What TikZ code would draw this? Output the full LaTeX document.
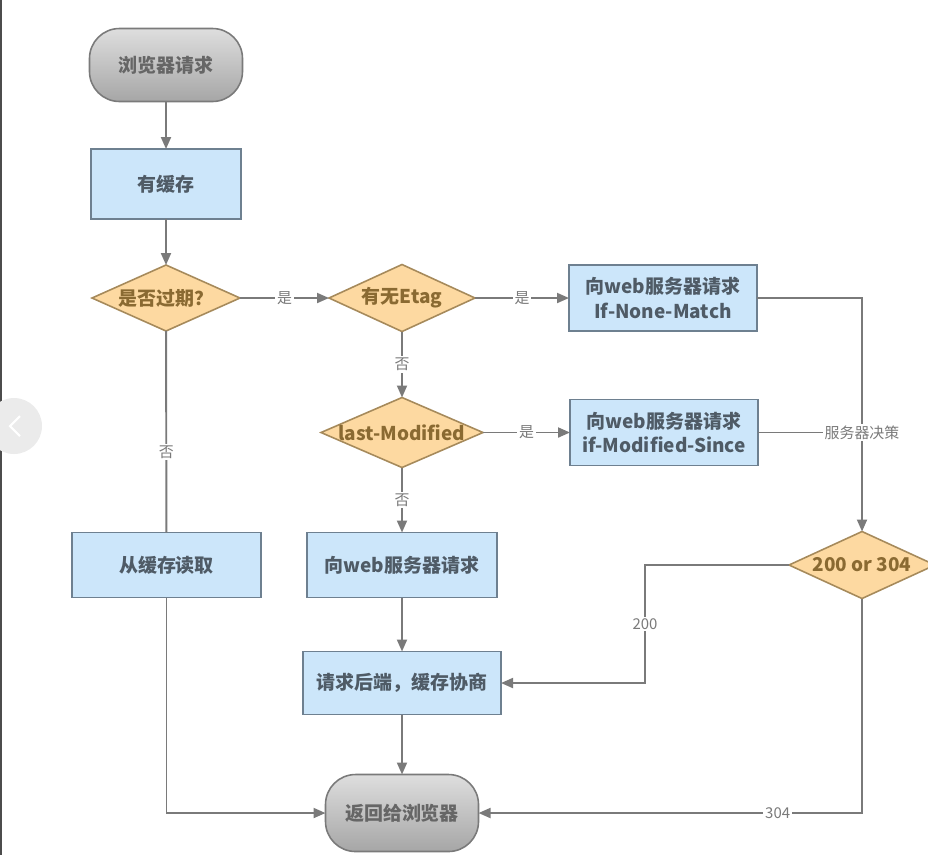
\documentclass[tikz,border=0pt]{standalone}
\usepackage{fontspec}
\setmainfont{Noto Sans CJK SC}
\usepackage{tikz}
\usetikzlibrary{shapes.geometric, arrows.meta, positioning}

\definecolor{linegray}{HTML}{7A7A7A}
\definecolor{boxblue}{HTML}{CCE6FA}
\definecolor{boxborder}{HTML}{6E8090}
\definecolor{boxtext}{HTML}{4F5B66}
\definecolor{decfill}{HTML}{FDD9A1}
\definecolor{decborder}{HTML}{A68A5B}
\definecolor{dectext}{HTML}{8A6A32}
\definecolor{pilltop}{HTML}{DEDEDE}
\definecolor{pillbottom}{HTML}{A6A6A6}
\definecolor{pilltext}{HTML}{666666}

\begin{document}
\begin{tikzpicture}[
        x=0.2mm, y=-0.2mm,
        terminal/.style={rectangle, rounded corners=0.6cm, draw=linegray, line width=0.9pt, outer sep=0pt, top color=pilltop, bottom color=pillbottom, minimum width=3.06cm, minimum height=1.46cm, text=pilltext, font=\fontsize{10.8}{13}\selectfont\bfseries},
        process/.style={rectangle, draw=boxborder, line width=0.9pt, outer sep=0pt, fill=boxblue, minimum height=1.3cm, text=boxtext, align=center, font=\fontsize{10.8}{14}\selectfont\bfseries},
        decision/.style={diamond, draw=decborder, line width=0.9pt, outer sep=0pt, fill=decfill, inner sep=0pt, minimum height=1.34cm, text=dectext, font=\fontsize{10.8}{13}\selectfont\bfseries},
        arrow/.style={-{Triangle[length=0.24cm, width=0.2cm]}, draw=linegray, line width=1.1pt},
        line/.style={-, draw=linegray, line width=1.1pt},
        lbl/.style={fill=white, inner sep=1pt, text=linegray, font=\fontsize{8.5}{10}\selectfont}
    ]
        \useasboundingbox (0,0) rectangle (928,855);
        % screen edge
        \fill[black!70] (0,0) rectangle (2,855);
        \fill[black!8] (14,426) circle (28);
        \draw[white, line width=1.2pt] (20,416) -- (10,426) -- (20,436);

        % left column
        \node[terminal] at (166,65) (start) {浏览器请求};
        \node[process, minimum width=3cm, minimum height=1.4cm, below=0.95cm of start] (cache) {有缓存};
        \node[decision, minimum width=2.96cm, minimum height=1.32cm, below=0.92cm of cache] (expired) {\makebox[0pt]{是否过期？}};

        % middle column
        \node[decision, minimum width=2.92cm, minimum height=1.34cm, right=1.78cm of expired] (etag) {\makebox[0pt]{有无Etag}};
        \node[decision, minimum width=3.24cm, minimum height=1.4cm, below=1.32cm of etag] (lastmod) {\makebox[0pt]{last-Modified}};
        \node[process, minimum width=3.8cm, below=1.3cm of lastmod] (webreq) {向web服务器请求};
        \node[process, minimum width=3.96cm, minimum height=1.26cm, below=1.08cm of webreq] (nego) {请求后端，缓存协商};
        \node[terminal, minimum height=1.54cm, below=1.2cm of nego] (back) {返回给浏览器};
        \node[process, minimum width=3.78cm, left=0.92cm of webreq] (readcache) {从缓存读取};

        % right column
        \node[process, minimum width=3.76cm, minimum height=1.32cm, right=1.88cm of etag] (inm) {向web服务器请求\\If-None-Match};
        \node[process, minimum width=3.76cm, minimum height=1.32cm, right=1.74cm of lastmod] (ims) {向web服务器请求\\if-Modified-Since};
        \node[decision, minimum width=2.92cm, right=5.84cm of webreq] (decide) {\makebox[0pt]{200 or 304}};
        \coordinate (turn) at (645,563);

        \draw[arrow] (start) -- (cache);
        \draw[arrow] (cache) -- (expired);
        \draw[arrow] (expired) -- node[lbl]{是} (etag);
        \draw[line] (expired) -- node[lbl, pos=0.6]{否} (readcache);
        \draw[arrow] (readcache.south) |- (back.west);
        \draw[arrow] (etag) -- node[lbl]{是} (inm);
        \draw[arrow] (etag) -- node[lbl]{否} (lastmod);
        \draw[arrow] (lastmod) -- node[lbl]{是} (ims);
        \draw[arrow] (lastmod) -- node[lbl]{否} (webreq);
        \draw[arrow] (webreq) -- (nego);
        \draw[arrow] (nego) -- (back);
        \draw[arrow] (inm.east) -| (decide.north);
        \draw[line] (ims.east) -- node[lbl, pos=1]{服务器决策} (ims.east -| decide.north);
        \draw[arrow] (decide.west) -- (decide.west -| turn) |- node[lbl, pos=0.25]{200} (nego.east);
        \draw[arrow] (decide.south) |- node[lbl, pos=0.61]{304} (back.east);
    \end{tikzpicture}
\end{document}
